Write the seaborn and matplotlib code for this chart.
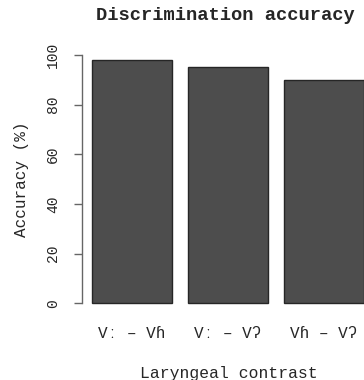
import matplotlib
matplotlib.use("Agg")
import matplotlib.pyplot as plt
import seaborn as sns
import pandas as pd

contrasts = ["Vː – Vɦ", "Vː – Vʔ", "Vɦ – Vʔ"]
accuracy = [98, 95, 90]
y_ticks = [0, 20, 40, 60, 80, 100]

sns.set_style("white")
mono = ["Liberation Mono", "DejaVu Sans Mono"]
plt.rcParams["font.family"] = mono

W, H = 364, 380
fig = plt.figure(figsize=(W / 100, H / 100), dpi=100)

# plot region in pixels (extends past the right edge of the figure)
left_px, right_px = 82, 375
top_px, bottom_px = 45.1, 313.2
ax = fig.add_axes([left_px / W, 1 - bottom_px / H,
                   (right_px - left_px) / W, (bottom_px - top_px) / H])

df = pd.DataFrame({"contrast": contrasts, "accuracy": accuracy})
sns.barplot(data=df, x="contrast", y="accuracy", ax=ax,
            color="#4d4d4d", saturation=1, width=1 / 1.2,
            edgecolor="#262626", linewidth=1)

ax.set_xlim(-0.5208, 2.530)
ax.set_ylim(-4, 104)

for s in ["top", "right", "bottom"]:
    ax.spines[s].set_visible(False)
ax.spines["left"].set_bounds(0, 100)
ax.spines["left"].set_color("#666666")
ax.spines["left"].set_linewidth(1)

ax.set_yticks(y_ticks)
ax.set_yticklabels([str(t) for t in y_ticks], rotation=90, va="center",
                   fontsize=10.5)
ax.tick_params(axis="y", direction="out", length=6, width=1,
               color="#666666", pad=10, left=True)
ax.tick_params(axis="x", length=0, pad=9, labelsize=11.5)

ax.set_xlabel("Laryngeal contrast", fontsize=11.8, labelpad=18)
ax.set_ylabel("Accuracy (%)", fontsize=11.5, labelpad=12)
ax.grid(False)

fig.text(225 / W, 1 - 15 / H, "Discrimination accuracy", ha="center",
         va="center", fontsize=13.5, fontweight="bold", family=mono)

fig.savefig("out.png", dpi=100, facecolor="white")
